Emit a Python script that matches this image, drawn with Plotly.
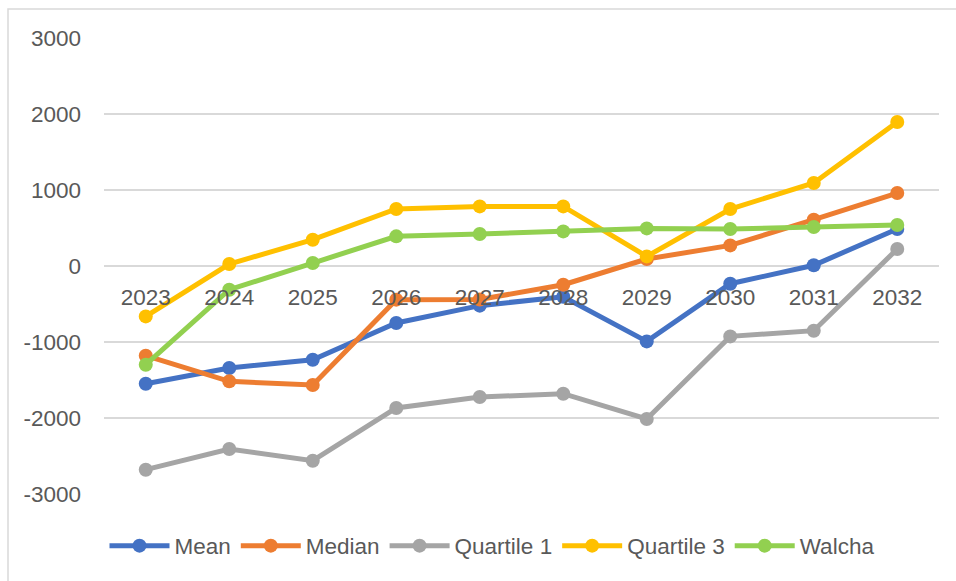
import plotly.graph_objects as go

years = ["2023", "2024", "2025", "2026", "2027", "2028", "2029", "2030", "2031", "2032"]

mean = [-1549, -1342, -1233, -750, -522, -404, -992, -233, 10, 487]
median = [-1180, -1518, -1566, -443, -440, -246, 92, 271, 609, 960]
quartile1 = [-2680, -2408, -2562, -1868, -1724, -1680, -2013, -926, -851, 224]
quartile3 = [-663, 26, 346, 750, 784, 784, 126, 750, 1092, 1895]
walcha = [-1299, -312, 39, 390, 421, 455, 495, 487, 513, 539]

y_ticks = [-3000, -2000, -1000, 0, 1000, 2000, 3000]
y_tick_text = ["-3000", "-2000", "-1000", "0", "1000", "2000", "3000"]

series = [
    ("Mean", mean, "#4472C4"),
    ("Median", median, "#ED7D31"),
    ("Quartile 1", quartile1, "#A5A5A5"),
    ("Quartile 3", quartile3, "#FFC000"),
    ("Walcha", walcha, "#92D050"),
]

FONT = "Liberation Sans"
TEXT = "#595959"
SIZE = 22.5

fig = go.Figure()
for name, vals, color in series:
    fig.add_trace(go.Scatter(
        x=years, y=vals, name=name, mode="lines+markers",
        line=dict(color=color, width=5),
        marker=dict(color=color, size=14),
    ))

# plot area: 104..939 px wide, 38..494 px tall
L, R, T, B = 104, 17, 38, 87
W, H = 956, 581
pw, ph = W - L - R, H - T - B

fig.update_layout(
    width=W, height=H,
    margin=dict(l=L, r=R, t=T, b=B),
    paper_bgcolor="white", plot_bgcolor="white",
    font=dict(family=FONT, size=SIZE, color=TEXT),
    showlegend=True,
    legend=dict(
        orientation="h", x=(492 - L) / pw, xanchor="center", y=(494 - 546) / ph, yanchor="middle",
        font=dict(family=FONT, size=SIZE, color=TEXT),
        itemwidth=60, tracegroupgap=0,
    ),
    xaxis=dict(
        type="category", range=[-0.5, 9.5],
        showgrid=False, showline=False, zeroline=False, ticks="",
        anchor="free", position=0.5, ticklabelstandoff=15,
        tickfont=dict(family=FONT, size=SIZE, color=TEXT),
    ),
    yaxis=dict(
        range=[-3000, 3000], tickvals=y_ticks, ticktext=y_tick_text,
        showgrid=True, gridcolor="#D9D9D9", gridwidth=1.5,
        zeroline=False, showline=False, ticks="",
        ticklabelstandoff=22,
        tickfont=dict(family=FONT, size=SIZE, color=TEXT),
    ),
    shapes=[dict(
        type="rect", xref="paper", yref="paper", layer="below",
        x0=(8 - L) / pw, x1=(W + 10 - L) / pw,
        y0=-(H + 10 - 494) / ph, y1=(494 - 9) / ph,
        line=dict(color="#D9D9D9", width=1.5), fillcolor="rgba(0,0,0,0)",
    )],
)

fig.write_html("out.html")
